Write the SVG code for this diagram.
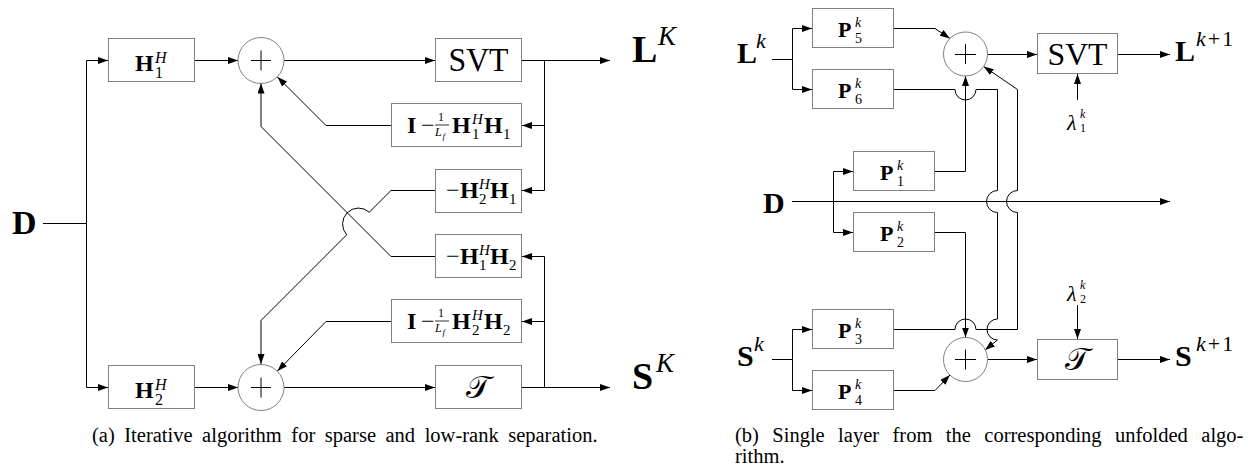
<svg xmlns="http://www.w3.org/2000/svg" width="1248" height="472" viewBox="0 0 1248 472">
<style>
.box{fill:#fff;stroke:#808080;stroke-width:1}
.sum{fill:#fff;stroke:#808080;stroke-width:1}
.pl{fill:none;stroke:#000;stroke-width:1}
.c{fill:none;stroke:#000;stroke-width:1}
.a{marker-end:url(#ah)}
text{font-family:"Liberation Serif","Times New Roman",serif;fill:#000}
.b{font-weight:bold}
.i{font-style:italic}
.cap{font-size:20.5px}
</style>
<defs>
<marker id="ah" viewBox="0 0 10 7" refX="10" refY="3.5" markerWidth="10" markerHeight="7" orient="auto" markerUnits="userSpaceOnUse">
<path d="M0,0 L10,3.5 L0,7 z" fill="#000"/>
</marker>
</defs>

<!-- ============ (a) ============ -->
<g id="connectors-a">
<path class="c" d="M43,223.5 H86.5"/>
<path class="c a" d="M86.5,223.5 V60.5 H108"/>
<path class="c a" d="M86.5,223.5 V387.5 H108"/>
<path class="c a" d="M195,60.5 H238"/>
<path class="c a" d="M284,60.5 H435"/>
<path class="c a" d="M522,60.5 H610"/>
<path class="c a" d="M544.5,60.5 V190.5 H522"/>
<path class="c a" d="M544.5,125.5 H522"/>
<path class="c a" d="M391,125.5 H326 L277.5,77"/>
<path class="c a" d="M435,190.5 H391 L369.3,212.2 A16,16 0 0 0 346.7,234.8 L261,320.5 V364"/>
<path class="c a" d="M435,256.5 H391 L261,126.5 V83.5"/>
<path class="c a" d="M391,321.5 H326 L277.5,371"/>
<path class="c a" d="M195,387.5 H238"/>
<path class="c a" d="M284,387.5 H435"/>
<path class="c a" d="M522,387.5 H610"/>
<path class="c a" d="M544.5,387.5 V256.5 H522"/>
<path class="c a" d="M544.5,321.5 H522"/>
</g>

<g id="lbl-D-a"><text class="b" x="12" y="234" font-size="34">D</text></g>
<g id="lbl-LK"><text class="b" x="632" y="62" font-size="38">L</text><text class="i" x="658" y="45" font-size="27">K</text></g>
<g id="lbl-SK"><text class="b" x="632" y="389" font-size="38">S</text><text class="i" x="656" y="372" font-size="27">K</text></g>

<g id="node-H1H">
<rect class="box" x="108.5" y="38.5" width="86" height="43"/>
<text class="b" x="135" y="71" font-size="24">H</text>
<text class="i" x="155" y="63" font-size="16">H</text>
<text x="155" y="78" font-size="16">1</text>
</g>
<g id="node-H2H">
<rect class="box" x="108.5" y="365.5" width="86" height="43"/>
<text class="b" x="135" y="398" font-size="24">H</text>
<text class="i" x="155" y="390" font-size="16">H</text>
<text x="155" y="405" font-size="16">2</text>
</g>
<g id="node-sum1">
<circle class="sum" cx="261" cy="60.5" r="23"/>
<path class="pl" d="M251,60.5 H271 M261,50.5 V70.5"/>
</g>
<g id="node-sum2">
<circle class="sum" cx="261" cy="387.5" r="23"/>
<path class="pl" d="M251,387.5 H271 M261,377.5 V397.5"/>
</g>
<g id="node-SVT-a">
<rect class="box" x="435.5" y="38.5" width="86" height="43"/>
<text x="478.5" y="71" font-size="34" text-anchor="middle" textLength="60" lengthAdjust="spacingAndGlyphs">SVT</text>
</g>
<g id="node-T-a">
<rect class="box" x="435.5" y="365.5" width="86" height="43"/>
<text x="478.5" y="398" font-size="32" text-anchor="middle">𝒯</text>
</g>
<g id="node-IH1">
<rect class="box" x="391.5" y="103.5" width="130" height="43"/>
<text class="b" x="407" y="133" font-size="24">I</text>
<text x="421" y="133" font-size="24">−</text>
<text x="438" y="121" font-size="12">1</text>
<line x1="435" y1="125" x2="449" y2="125" stroke="#000" stroke-width="0.8"/>
<text class="i" x="435" y="136" font-size="12">L</text>
<text class="i" x="442.5" y="138.5" font-size="9">f</text>
<text class="b" x="452" y="133" font-size="24">H</text>
<text class="i" x="472" y="124" font-size="15">H</text>
<text x="472" y="139" font-size="15">1</text>
<text class="b" x="484" y="133" font-size="24">H</text>
<text x="503" y="139" font-size="15">1</text>
</g>
<g id="node-mH2H1">
<rect class="box" x="435.5" y="169.5" width="86" height="43"/>
<text x="446" y="198" font-size="24">−</text>
<text class="b" x="460" y="198" font-size="24">H</text>
<text class="i" x="479" y="189" font-size="15">H</text>
<text x="479" y="204" font-size="15">2</text>
<text class="b" x="490" y="198" font-size="24">H</text>
<text x="509" y="204" font-size="15">1</text>
</g>
<g id="node-mH1H2">
<rect class="box" x="435.5" y="234.5" width="86" height="43"/>
<text x="446" y="264" font-size="24">−</text>
<text class="b" x="460" y="264" font-size="24">H</text>
<text class="i" x="479" y="255" font-size="15">H</text>
<text x="479" y="270" font-size="15">1</text>
<text class="b" x="490" y="264" font-size="24">H</text>
<text x="509" y="270" font-size="15">2</text>
</g>
<g id="node-IH2">
<rect class="box" x="391.5" y="299.5" width="130" height="43"/>
<text class="b" x="407" y="329" font-size="24">I</text>
<text x="421" y="329" font-size="24">−</text>
<text x="438" y="317" font-size="12">1</text>
<line x1="435" y1="321" x2="449" y2="321" stroke="#000" stroke-width="0.8"/>
<text class="i" x="435" y="332" font-size="12">L</text>
<text class="i" x="442.5" y="334.5" font-size="9">f</text>
<text class="b" x="452" y="329" font-size="24">H</text>
<text class="i" x="472" y="320" font-size="15">H</text>
<text x="472" y="335" font-size="15">2</text>
<text class="b" x="484" y="329" font-size="24">H</text>
<text x="503" y="335" font-size="15">2</text>
</g>

<text class="cap" x="92" y="442" word-spacing="4.4">(a) Iterative algorithm for sparse and low-rank separation.</text>

<!-- ============ (b) ============ -->
<g id="connectors-b">
<path class="c" d="M772,59.5 H792.5"/>
<path class="c a" d="M792.5,59.5 V28.5 H812"/>
<path class="c a" d="M792.5,59.5 V89.5 H812"/>
<path class="c a" d="M894,28.5 H935 L949.9,38.4"/>
<path class="c a" d="M894,89.5 H955 A10.5,10.5 0 0 0 976,89.5 H997.5 V190.5 A10.5,10.5 0 0 0 997.5,212.5 V319 A10.5,10.5 0 0 0 997.5,340 L985,350"/>
<path class="c a" d="M894,329.5 H955 A10.5,10.5 0 0 1 976,329.5 H1017.5 V212.5 A10.5,10.5 0 0 1 1017.5,190.5 V89.5 L983.7,66.4"/>
<path class="c a" d="M792,201.5 H1170"/>
<path class="c a" d="M833.5,201.5 V171.5 H853"/>
<path class="c a" d="M833.5,201.5 V232.5 H853"/>
<path class="c a" d="M935,171.5 H965.5 V76"/>
<path class="c a" d="M935,232.5 H965.5 V337.5"/>
<path class="c" d="M772,359.5 H792.5"/>
<path class="c a" d="M792.5,359.5 V329.5 H812"/>
<path class="c a" d="M792.5,359.5 V390.5 H812"/>
<path class="c a" d="M894,390.5 H935 L949.9,375.1"/>
<path class="c a" d="M987.5,54.5 H1037"/>
<path class="c a" d="M1118,54.5 H1170"/>
<path class="c a" d="M1077.5,100 V74"/>
<path class="c a" d="M987.5,359.5 H1037"/>
<path class="c a" d="M1118,359.5 H1170"/>
<path class="c a" d="M1077.5,305 V339"/>
</g>

<g id="lbl-Lk"><text class="b" x="737" y="63" font-size="30">L</text><text class="i" x="756" y="48" font-size="22">k</text></g>
<g id="lbl-D-b"><text class="b" x="763" y="213" font-size="30">D</text></g>
<g id="lbl-Sk"><text class="b" x="737" y="366" font-size="30">S</text><text class="i" x="754" y="351" font-size="22">k</text></g>
<g id="lbl-Lk1"><text class="b" x="1175" y="61" font-size="30">L</text><text x="1196" y="46" font-size="22" letter-spacing="2"><tspan class="i">k</tspan>+1</text></g>
<g id="lbl-Sk1"><text class="b" x="1175" y="366" font-size="30">S</text><text x="1196" y="351" font-size="22" letter-spacing="2"><tspan class="i">k</tspan>+1</text></g>
<g id="lbl-lambda1"><text class="i" x="1067" y="130" font-size="22">λ</text><text class="i" x="1080" y="118" font-size="12">k</text><text x="1080" y="132" font-size="12">1</text></g>
<g id="lbl-lambda2"><text class="i" x="1067" y="301" font-size="22">λ</text><text class="i" x="1080" y="289" font-size="12">k</text><text x="1080" y="303" font-size="12">2</text></g>

<g id="node-P5"><rect class="box" x="812.5" y="8.5" width="81" height="39"/><text class="b" x="838" y="37" font-size="22">P</text><text class="i" x="855" y="27" font-size="14">k</text><text x="855" y="43" font-size="14">5</text></g>
<g id="node-P6"><rect class="box" x="812.5" y="69.5" width="81" height="39"/><text class="b" x="838" y="98" font-size="22">P</text><text class="i" x="855" y="88" font-size="14">k</text><text x="855" y="104" font-size="14">6</text></g>
<g id="node-P1"><rect class="box" x="853.5" y="151.5" width="81" height="39"/><text class="b" x="880" y="180" font-size="22">P</text><text class="i" x="897" y="170" font-size="14">k</text><text x="897" y="186" font-size="14">1</text></g>
<g id="node-P2"><rect class="box" x="853.5" y="212.5" width="81" height="39"/><text class="b" x="880" y="241" font-size="22">P</text><text class="i" x="897" y="231" font-size="14">k</text><text x="897" y="247" font-size="14">2</text></g>
<g id="node-P3"><rect class="box" x="812.5" y="309.5" width="81" height="39"/><text class="b" x="838" y="338" font-size="22">P</text><text class="i" x="855" y="328" font-size="14">k</text><text x="855" y="344" font-size="14">3</text></g>
<g id="node-P4"><rect class="box" x="812.5" y="370.5" width="81" height="39"/><text class="b" x="838" y="399" font-size="22">P</text><text class="i" x="855" y="389" font-size="14">k</text><text x="855" y="405" font-size="14">4</text></g>
<g id="node-sum3"><circle class="sum" cx="965.5" cy="54" r="22"/><path class="pl" d="M955,54.5 H976 M965.5,44 V64"/></g>
<g id="node-sum4"><circle class="sum" cx="965.5" cy="359.5" r="22"/><path class="pl" d="M955,359.5 H976 M965.5,349.5 V369.5"/></g>
<g id="node-SVT-b"><rect class="box" x="1037.5" y="33.5" width="80" height="40"/><text x="1077.5" y="65" font-size="32" text-anchor="middle" textLength="60" lengthAdjust="spacingAndGlyphs">SVT</text></g>
<g id="node-T-b"><rect class="box" x="1037.5" y="339.5" width="80" height="40"/><text x="1077.5" y="370" font-size="32" text-anchor="middle">𝒯</text></g>

<text class="cap" y="442"><tspan x="735">(b)</tspan><tspan x="772.3">Single</tspan><tspan x="838.1">layer</tspan><tspan x="892.5">from</tspan><tspan x="945.8">the</tspan><tspan x="984.3">corresponding</tspan><tspan x="1115">unfolded</tspan><tspan x="1201.3">algo-</tspan></text>
<text class="cap" x="735" y="463">rithm.</text>
</svg>
